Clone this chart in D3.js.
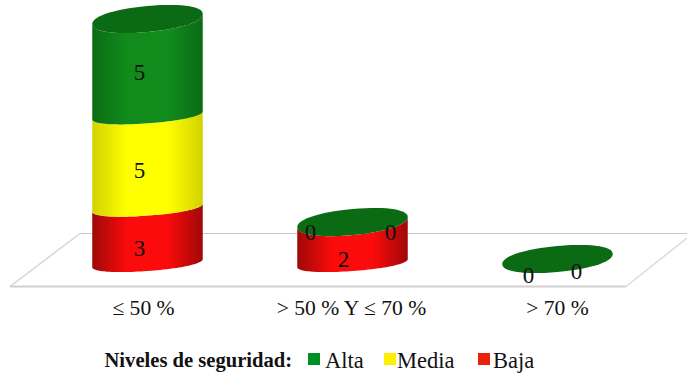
<!DOCTYPE html>
<html>
<head>
<meta charset="utf-8">
<script src="https://cdn.jsdelivr.net/npm/d3@7/dist/d3.min.js"></script>
<style>
  html, body { margin: 0; padding: 0; background: #fff; }
  svg { display: block; }
  text { font-family: "Liberation Serif", serif; fill: #111; }
</style>
</head>
<body>
<svg id="chart" width="687" height="377"></svg>
<script>
// Security levels by range: stacked cylinders, bottom to top
const categories = ["≤ 50 %", "> 50 % Y ≤ 70 %", "> 70 %"];
const seriesNames = ["Baja", "Media", "Alta"];
const baja = [3, 2, 0];
const media = [5, 0, 0];
const alta = [5, 0, 0];
const legendTitle = "Niveles de seguridad:";
const legendOrder = ["Alta", "Media", "Baja"];

const svg = d3.select("#chart");
const width = 687;

const x = d3.scaleBand().domain(categories).range([45, 660]).paddingInner(0.461).paddingOuter(0.2305);
const y = d3.scaleLinear().domain([0, 13]).range([259, 19]);

const rx = x.bandwidth() / 2;

// The open caps read as full ellipses; seams on the front are flatter and sit lower
const cap = { shear: -5, ry: 13, drop: 0, round: 0.93 };
const seam = { shear: -4, ry: 8, drop: 4, round: 0.93 };

const shades = {
  Alta:  { edge: "#0a6c14", mid: "#118c1c", swatch: "#008f25", top: "#0b6a14" },
  Media: { edge: "#d2d200", mid: "#ffff00", swatch: "#fff000" },
  Baja:  { edge: "#a00808", mid: "#fb0b0b", swatch: "#e8230a" }
};

// Horizontal shading that gives the cylinders their round look
const defs = svg.append("defs");
seriesNames.forEach(name => {
  const g = defs.append("linearGradient").attr("id", "side-" + name);
  [[0, shades[name].edge], [0.32, shades[name].mid], [0.68, shades[name].mid], [1, shades[name].edge]]
    .forEach(([o, c]) => g.append("stop").attr("offset", o).attr("stop-color", c));
});

// Floor of the chart
const floorBackY = 233.5, floorFrontY = 286.5;
const floor = svg.append("g").attr("fill", "none");
floor.append("path")
  .attr("d", d3.line()([[80, floorBackY], [width, floorBackY]]))
  .attr("stroke", "#c9c7c7").attr("stroke-width", 1.2);
floor.append("path")
  .attr("d", d3.line()([[80, floorBackY], [10, floorFrontY]]))
  .attr("stroke", "#d6d6d6").attr("stroke-width", 1.5);
floor.append("path")
  .attr("d", d3.line()([[10, floorFrontY], [626, floorFrontY]]))
  .attr("stroke", "#cfcfcf").attr("stroke-width", 2);
floor.append("path")
  .attr("d", d3.line()([[626, floorFrontY], [width, 238]]))
  .attr("stroke", "#dcdcdc").attr("stroke-width", 1.5);

// Rim of a cylinder section: a sheared, slightly blunted circle around the bar axis
const blunt = (v, p) => Math.sign(v) * Math.pow(Math.abs(v), p);
const rim = (shape, cx, cy, from, to) => d3.range(0, 61).map(i => {
  const t = from + (to - from) * i / 60;
  const c = blunt(Math.cos(t), shape.round);
  const s = blunt(Math.sin(t), shape.round);
  return [cx + rx * c, cy + shape.drop + shape.shear * c + shape.ry * s];
});
const line = d3.line();

const stacked = d3.stack().keys(seriesNames)(
  categories.map((c, i) => ({ category: c, Baja: baja[i], Media: media[i], Alta: alta[i] }))
);
const totals = categories.map((c, i) => baja[i] + media[i] + alta[i]);

const bars = svg.append("g");
stacked.forEach(layer => {
  layer.forEach((d, i) => {
    if (d[1] === d[0]) return;
    const cx = x(categories[i]) + rx;
    const upper = d[1] === totals[i] ? cap : seam;
    const pts = rim(upper, cx, y(d[1]), 0, Math.PI).concat(rim(seam, cx, y(d[0]), Math.PI, 0));
    bars.append("path")
      .attr("d", line(pts) + "Z")
      .attr("fill", `url(#side-${layer.key})`);
  });
});

// Closed top of every stack
categories.forEach((c, i) => {
  bars.append("path")
    .attr("d", line(rim(cap, x(c) + rx, y(totals[i]), 0, 2 * Math.PI)) + "Z")
    .attr("fill", shades.Alta.top);
});

// Value labels, offset from the bar axis and the section's middle
const labelPlacement = [
  { s: alta,  i: 0, dx: -8, dy: 15 },
  { s: media, i: 0, dx: -8, dy: 21 },
  { s: baja,  i: 0, dx: -8, dy: 25 },
  { s: alta,  i: 1, dx: -42, dy: 18 },
  { s: media, i: 1, dx: 38, dy: 18 },
  { s: baja,  i: 1, dx: -9, dy: 26 },
  { s: media, i: 2, dx: -29, dy: 24 },
  { s: baja,  i: 2, dx: 19, dy: 20 }
];
const labels = svg.append("g").attr("font-size", 23).attr("text-anchor", "middle");
labelPlacement.forEach(p => {
  const name = p.s === alta ? "Alta" : p.s === media ? "Media" : "Baja";
  const layer = stacked.find(l => l.key === name)[p.i];
  labels.append("text")
    .attr("x", x(categories[p.i]) + rx + p.dx)
    .attr("y", y((layer[0] + layer[1]) / 2) + p.dy)
    .text(p.s[p.i]);
});

// Category labels
const categoryNudge = [-4, -1, 0];
svg.append("g").attr("font-size", 21.6).attr("text-anchor", "middle")
  .selectAll("text").data(categories).join("text")
  .attr("x", (d, i) => x(d) + rx + categoryNudge[i])
  .attr("y", 315)
  .text(d => d);

// Legend
const legend = svg.append("g").attr("font-size", 22.5);
legend.append("text").attr("x", 104.5).attr("y", 367).attr("font-weight", "bold").attr("font-size", 20.6).text(legendTitle);
const swatchX = { Alta: 308, Media: 384, Baja: 478 };
legendOrder.forEach(name => {
  legend.append("rect").attr("x", swatchX[name]).attr("y", 353).attr("width", 12).attr("height", 12).attr("fill", shades[name].swatch);
  legend.append("text").attr("x", swatchX[name] + (name === "Alta" ? 17 : name === "Media" ? 13 : 15)).attr("y", 368).text(name);
});
</script>
</body>
</html>
